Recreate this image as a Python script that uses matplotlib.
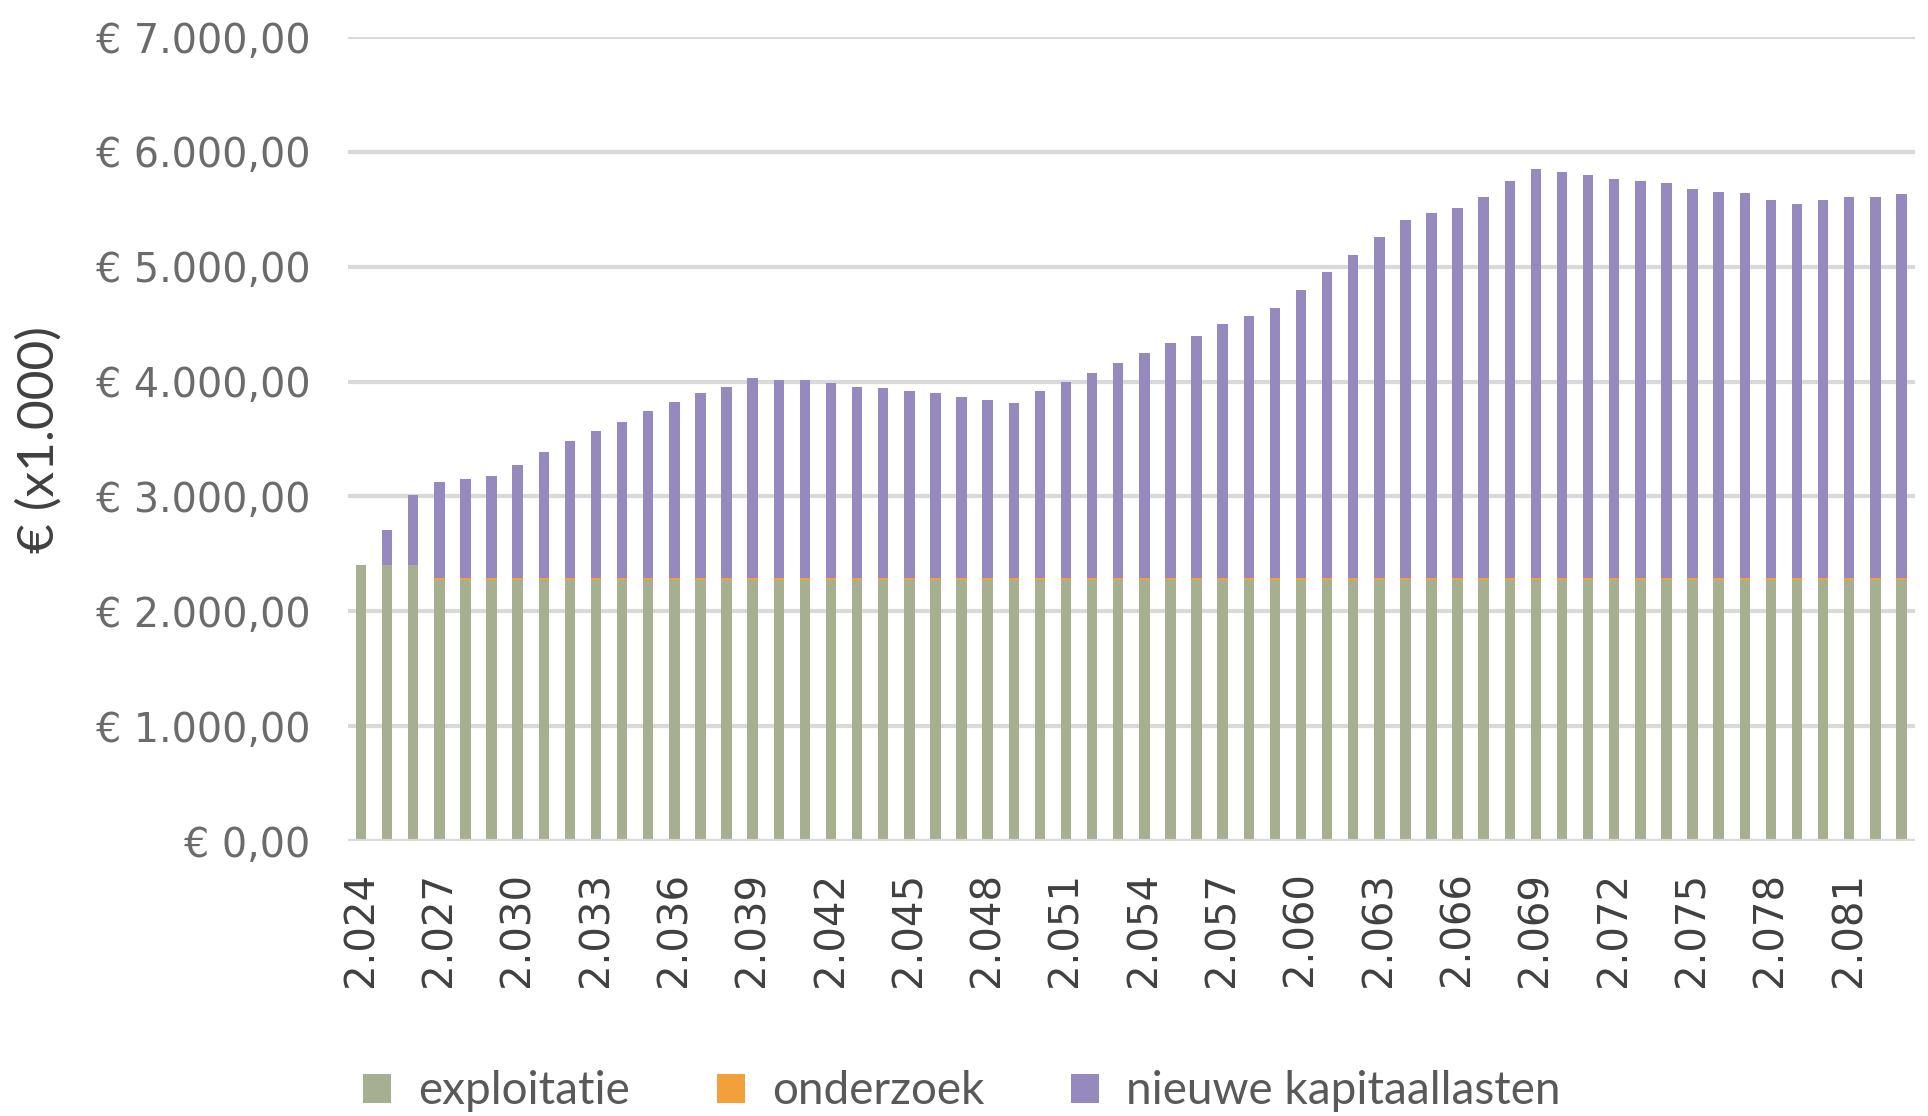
import matplotlib
matplotlib.use("Agg")
import matplotlib.pyplot as plt
from matplotlib.ticker import FuncFormatter
from matplotlib.patches import Patch

years = list(range(2024, 2084))

totals = [2400, 2705, 3015, 3130, 3150, 3175, 3275, 3385, 3480, 3570,
          3645, 3740, 3820, 3900, 3955, 4035, 4015, 4010, 3985, 3955,
          3945, 3920, 3900, 3870, 3840, 3815, 3920, 4000, 4075, 4165,
          4245, 4335, 4395, 4500, 4570, 4640, 4795, 4950, 5100, 5255,
          5405, 5470, 5515, 5610, 5750, 5855, 5825, 5795, 5760, 5750,
          5725, 5675, 5650, 5640, 5585, 5550, 5580, 5610, 5605, 5630]

exploitatie = [2400, 2400, 2400] + [2275] * 57
onderzoek = [0, 0, 0] + [15] * 57
kapitaallasten = [t - e - o for t, e, o in zip(totals, exploitatie, onderzoek)]

series_names = ["exploitatie", "onderzoek", "nieuwe kapitaallasten"]
colors = ["#a6b091", "#f2a03a", "#9689be"]

y_ticks = [0, 1000, 2000, 3000, 4000, 5000, 6000, 7000]

fig = plt.figure(figsize=(19.28, 11.16), dpi=100)
ax = fig.add_axes([0.1805, 0.2464, 0.8125, 0.7204])

x = list(range(len(years)))
w = 0.4
ax.bar(x, exploitatie, width=w, color=colors[0], zorder=3)
ax.bar(x, onderzoek, width=w, bottom=exploitatie, color=colors[1], zorder=3)
bottom2 = [e + o for e, o in zip(exploitatie, onderzoek)]
ax.bar(x, kapitaallasten, width=w, bottom=bottom2, color=colors[2], zorder=3)

ax.set_xlim(-0.5, len(years) - 0.5)
ax.set_ylim(0, 7000)
ax.set_yticks(y_ticks)


def euro(v, pos=None):
    s = f"{v:,.2f}".replace(",", "X").replace(".", ",").replace("X", ".")
    return "€ " + s


ax.yaxis.set_major_formatter(FuncFormatter(euro))
ax.grid(axis="y", color="#d9d9d9", linewidth=3, zorder=0)
for sp in ax.spines.values():
    sp.set_visible(False)
ax.tick_params(axis="y", length=0, pad=27, labelsize=28.5, labelcolor="#6b6b6b")

tick_idx = x[::3]
ax.set_xticks(tick_idx)
ax.set_xticklabels([f"{years[i] // 1000}.{years[i] % 1000:03d}" for i in tick_idx],
                   rotation=90, fontsize=29, color="#404040")
ax.tick_params(axis="x", length=0, pad=22)
ax.axhline(0, color="#d9d9d9", linewidth=3, zorder=4)

ax.set_ylabel("€ (x1.000)", fontsize=37, color="#404040", family=["Lato", "DejaVu Sans"])
ax.yaxis.set_label_coords(-0.182, 0.5)

handles = [Patch(facecolor=c, edgecolor="none") for c in colors]
leg = fig.legend(handles, series_names, loc="center", bbox_to_anchor=(0.499, 0.022),
                 ncol=3, frameon=False, prop={"family": "Lato", "size": 33},
                 handlelength=0.6, handleheight=0.6, columnspacing=1.9, handletextpad=0.6)
for t in leg.get_texts():
    t.set_color("#595959")

fig.savefig("out.png", dpi=100)
